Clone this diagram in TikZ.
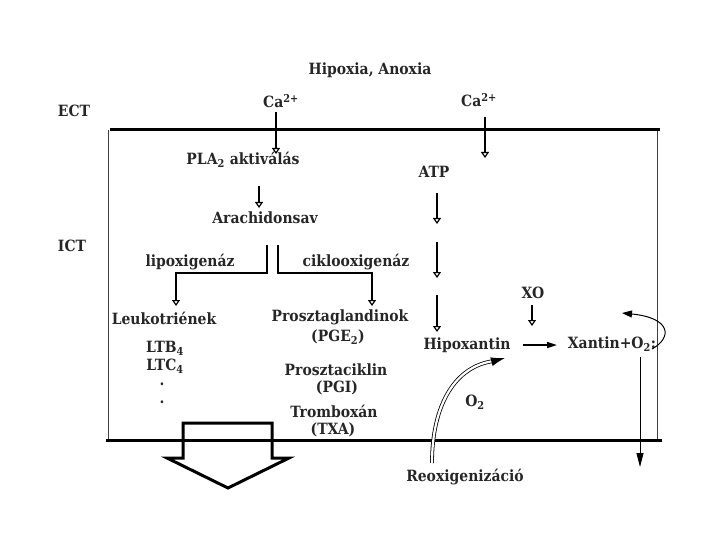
\documentclass[tikz,border=0pt]{standalone}
\usepackage{fontspec}
\setmainfont{DejaVu Serif Condensed}
\usetikzlibrary{arrows.meta}
\begin{document}
\begin{tikzpicture}[x=1pt,y=-1pt,
  lbl/.style={font=\fontsize{15.5}{17}\selectfont\bfseries, inner sep=0pt, text=black!85},
  memb/.style={line width=3pt},
  wall/.style={line width=0.9pt, black!75},
  arr/.style={line width=1.8pt, -{Triangle[open, length=6pt, width=8pt, line width=1.2pt]}},
  fill arr/.style={line width=1.6pt, -{Triangle[length=10pt, width=6pt]}},
  thin arr/.style={line width=0.9pt, -{Triangle[length=14pt, width=7pt]}},
  big arrow/.style={line width=3pt, line join=miter}]
\useasboundingbox (0,0) rectangle (720,540);

% membranes and walls
\coordinate (mtl) at (110,130); \coordinate (mtr) at (660,130);
\coordinate (mbl) at (106,440); \coordinate (mbr) at (662,440);
\coordinate (wl) at (108,130); \coordinate (wlb) at (108,440);
\coordinate (wr) at (657,130); \coordinate (wrb) at (657,440);
\draw[wall] (wl) -- (wlb);
\draw[wall] (wr) -- (wrb);
\draw[memb] (mtl) -- (mtr);
\draw[memb] (mbl) -- (mbr);

% labels
\node[lbl] (hyp) at (370,70) {Hipoxia, Anoxia};
\node[lbl] (ect) at (74,111) {ECT};
\node[lbl] (ict) at (72,246) {ICT};
\node[lbl] (ca1) at (281,101) {Ca\textsuperscript{2+}};
\node[lbl] (ca2) at (479,100) {Ca\textsuperscript{2+}};
\node[lbl] (pla) at (243,160) {PLA\textsubscript{2} aktiválás};
\node[lbl] (atp) at (434,172) {ATP};
\node[lbl] (ara) at (265,218) {Arachidonsav};
\node[lbl] (lox) at (190,262) {lipoxigenáz};
\node[lbl] (cox) at (356,262) {ciklooxigenáz};
\node[lbl] (leu) at (164,318) {Leukotriének};
\node[lbl] (ltb) at (165,348) {LTB\textsubscript{4}};
\node[lbl] (ltc) at (165,366) {LTC\textsubscript{4}};
\node[lbl] (d1) at (162,384) {.};
\node[lbl] (d2) at (162,402) {.};
\node[lbl] (pgl) at (340,317) {Prosztaglandinok};
\node[lbl] (pge) at (338,337) {(PGE\textsubscript{2})};
\node[lbl] (pci) at (336,370) {Prosztaciklin};
\node[lbl] (pgi) at (337,388) {(PGI)};
\node[lbl] (trb) at (334,411) {Tromboxán};
\node[lbl] (txa) at (333,430) {(TXA)};
\node[lbl] (hpx) at (467,345) {Hipoxantin};
\node[lbl] (xo) at (533,293) {XO};
\node[lbl] (xan) at (612,344) {Xantin+O\textsubscript{2}:};
\node[lbl] (o2) at (475,402) {O\textsubscript{2}};
\node[lbl] (reo) at (465,477) {Reoxigenizáció};

% Ca arrows
\coordinate (c1a) at (276,112); \coordinate (c1b) at (276,154);
\coordinate (c2a) at (485,117); \coordinate (c2b) at (485,158);
\draw[arr] (c1a) -- (c1b);
\draw[arr] (c2a) -- (c2b);

% PLA -> Arachidonsav
\coordinate (p1) at (259,186); \coordinate (p2) at (259,208);
\draw[arr] (p1) -- (p2);

% branches
\coordinate (bl1) at (267,245); \coordinate (bl2) at (267,273);
\coordinate (bl3) at (176,273); \coordinate (bl4) at (176,306);
\coordinate (br1) at (278,245); \coordinate (br2) at (278,273);
\coordinate (br3) at (372,273); \coordinate (br4) at (372,306);
\draw[arr] (bl1) -- (bl2) -- (bl3) -- (bl4);
\draw[arr] (br1) -- (br2) -- (br3) -- (br4);

% ATP chain
\coordinate (a1) at (437,193); \coordinate (a2) at (437,224);
\coordinate (a3) at (437,242); \coordinate (a4) at (437,278);
\coordinate (a5) at (437,295); \coordinate (a6) at (437,332);
\draw[arr] (a1) -- (a2);
\draw[arr] (a3) -- (a4);
\draw[arr] (a5) -- (a6);

% XO arrow
\coordinate (x1) at (532,305); \coordinate (x2) at (532,326);
\draw[arr] (x1) -- (x2);

% Hipoxantin -> Xantin
\coordinate (h1) at (523,345); \coordinate (h2) at (557,345);
\draw[fill arr] (h1) -- (h2);

% loop arrow
\coordinate (l1) at (652,349); \coordinate (l2) at (622,313);
\draw[line width=1pt, -{Triangle[length=10pt, width=7pt]}]
  (l1) .. controls (672,338) and (672,318) .. (l2);

% down arrow
\coordinate (dn1) at (640,357); \coordinate (dn2) at (640,467);
\draw[thin arr] (dn1) -- (dn2);

% reoxygenation curve
\coordinate (r1) at (432,463); \coordinate (r2) at (494,361);
\coordinate (r3) at (505,358);
\draw[line width=0.8pt, double distance=2.2pt]
  (r1) .. controls (432,405) and (455,366) .. (r2);
\draw[line width=1pt, -{Latex[length=14pt, width=9pt]}] (r2) -- (r3);

% big hollow arrow
\coordinate (ba1) at (183,458); \coordinate (ba2) at (183,423);
\coordinate (ba3) at (272,423); \coordinate (ba4) at (272,458);
\coordinate (ba5) at (289,458); \coordinate (ba6) at (228,488);
\coordinate (ba7) at (167,458);
\draw[big arrow] (ba1) -- (ba2) -- (ba3) -- (ba4) -- (ba5) -- (ba6) -- (ba7) -- cycle;
\end{tikzpicture}
\end{document}
